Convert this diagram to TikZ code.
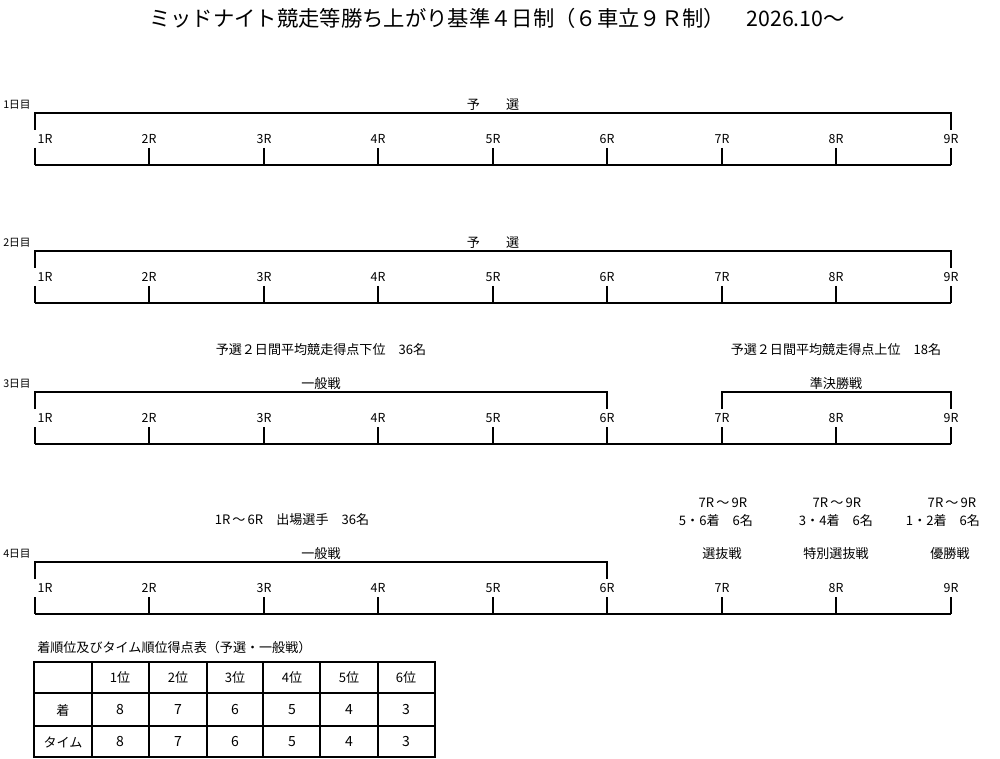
\documentclass[tikz,border=0pt]{standalone}
\usepackage{fontspec}
\setmainfont{Noto Sans CJK JP}
\newcommand{\tld}{\,～\,}
\begin{document}
\begin{tikzpicture}[x=0.75pt,y=-0.75pt,
  ln/.style={line width=1.1pt,black},
  txt/.style={inner sep=0pt,font=\fontsize{9.8}{11}\selectfont},
  tab/.style={inner sep=0pt,font=\fontsize{10.5}{12}\selectfont},
  rl/.style={inner sep=0pt,font=\fontsize{9.3}{10}\selectfont},
  dl/.style={inner sep=0pt,anchor=west,font=\fontsize{8}{9}\selectfont},
  ttl/.style={inner sep=0pt,font=\fontsize{16}{18}\selectfont}]
\useasboundingbox (0,0) rectangle (1000,759);
\node[ttl] (title) at (497,18) {ミッドナイト競走等勝ち上がり基準４日制（６車立９Ｒ制）　2026.10～};

% x positions of races
\def\xs{1/35,2/149,3/264,4/378,5/493,6/607,7/722,8/836,9/951}

% ---------- generic day rows ----------
\foreach \d/\T in {1/113,2/251,3/392,4/562}{
  \node[dl] (day\d) at (3,\T-8) {\d 日目};
  \coordinate (bl\d) at (35,\T+52);
  \coordinate (br\d) at (951,\T+52);
  \draw[ln] (bl\d) -- (br\d);
  \foreach \i/\x in \xs{
    \coordinate (t\d-\i) at (\x,\T+35);
    \coordinate (b\d-\i) at (\x,\T+52);
    \draw[ln] (t\d-\i) -- (b\d-\i);
    \ifnum\i=1
      \node[rl] (r\d-\i) at (45,\T+26) {\i R};
    \else
      \node[rl] (r\d-\i) at (\x,\T+26) {\i R};
    \fi
  }
}

% ---------- day 1 & 2 brackets ----------
\foreach \d/\T in {1/113,2/251}{
  \draw[ln] (35,\T+17) coordinate (ul\d) -- (35,\T) coordinate (tl\d) -- (951,\T) coordinate (tr\d) -- (951,\T+17) coordinate (ur\d);
  \node[txt] (yo\d) at (493,\T-8) {予　　選};
}

% ---------- day 3 ----------
\draw[ln] (35,409) coordinate (u3a) -- (35,392) coordinate (a3l) -- (607,392) coordinate (a3r) -- (607,409) coordinate (u3b);
\draw[ln] (722,409) coordinate (u3c) -- (722,392) coordinate (c3l) -- (951,392) coordinate (c3r) -- (951,409) coordinate (u3d);
\node[txt] (ip3) at (321,384) {一般戦};
\node[txt] (jk3) at (836,384) {準決勝戦};
\node[txt] (low) at (321,350) {予選２日間平均競走得点下位　36名};
\node[txt] (high) at (836,350) {予選２日間平均競走得点上位　18名};

% ---------- day 4 ----------
\draw[ln] (35,579) coordinate (u4a) -- (35,562) coordinate (a4l) -- (607,562) coordinate (a4r) -- (607,579) coordinate (u4b);
\node[txt] (ip4) at (321,554) {一般戦};
\node[txt] (ent) at (292,520) {1R\tld 6R　出場選手　36名};
\node[txt] (s1) at (723,503) {7R\tld 9R};
\node[txt] (s2) at (716,521) {5・6着　6名};
\node[txt] (s3) at (837,503) {7R\tld 9R};
\node[txt] (s4) at (836,521) {3・4着　6名};
\node[txt] (s5) at (952,503) {7R\tld 9R};
\node[txt] (s6) at (943,521) {1・2着　6名};
\node[txt] (f1) at (722,554) {選抜戦};
\node[txt] (f2) at (836,554) {特別選抜戦};
\node[txt] (f3) at (950,554) {優勝戦};

% ---------- table ----------
\node[txt,anchor=west] (tt) at (37,648) {着順位及びタイム順位得点表（予選・一般戦）};
\draw[line width=0.9pt] (34,662) rectangle (435,757);
\foreach \x in {92,149,207,263,320,378}{\draw[line width=0.9pt] (\x,662) -- (\x,757);}
\foreach \y in {693,726}{\draw[line width=0.9pt] (34,\y) -- (435,\y);}
\foreach \c/\x in {1/120,2/178,3/235,4/292,5/349,6/406}{
  \node[txt] (h\c) at (\x,678) {\c 位};
}
\node[txt] (rowA) at (63,710) {着};
\node[txt] (rowB) at (63,742) {タイム};
\foreach \v/\x in {8/120,7/178,6/235,5/292,4/349,3/406}{
  \node[tab] (a\v) at (\x,710) {\v};
  \node[tab] (b\v) at (\x,742) {\v};
}
\end{tikzpicture}
\end{document}
